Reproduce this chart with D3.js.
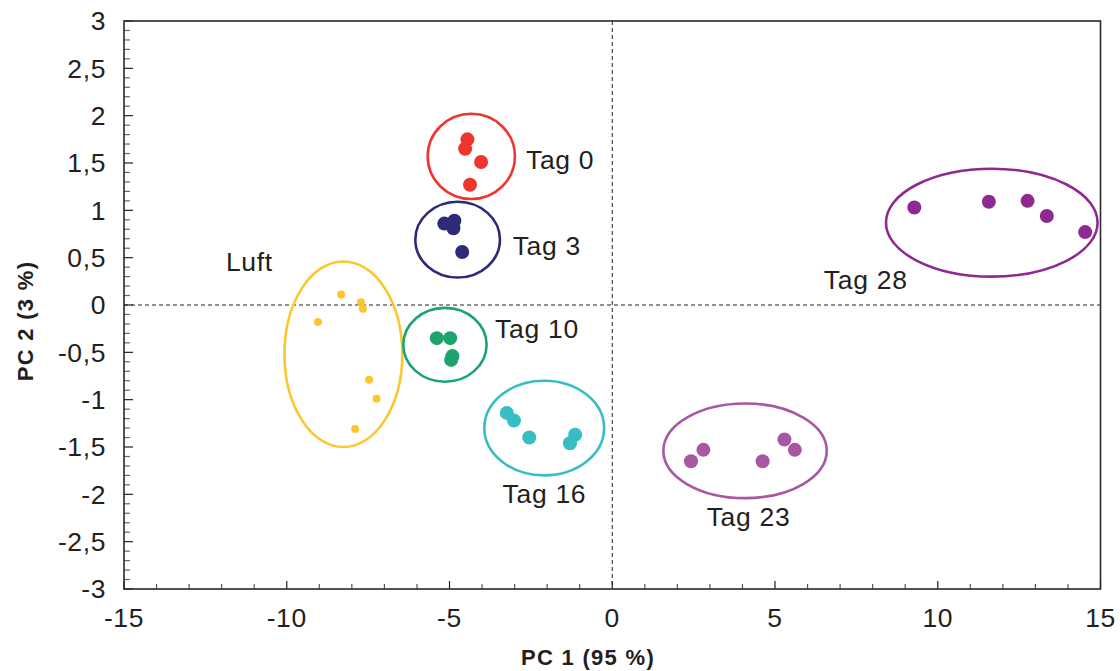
<!DOCTYPE html>
<html>
<head>
<meta charset="utf-8">
<script src="https://cdn.jsdelivr.net/npm/d3@7/dist/d3.min.js"></script>
<style>
  html, body { margin: 0; padding: 0; background: #fff; }
  svg { display: block; font-family: "Liberation Sans", Arial, Helvetica, sans-serif; }
</style>
</head>
<body>
<svg id="chart" width="1120" height="671"></svg>
<script>
// ---- data ----
const groups = ["Luft", "Tag 0", "Tag 3", "Tag 10", "Tag 16", "Tag 23", "Tag 28"];
const colors = ["#fdc62e", "#ee3530", "#2d2b78", "#1ca46c", "#36bec4", "#a858a3", "#8e2a8f"];

const luftX  = [-8.33, -7.72, -7.66, -9.04, -7.47, -7.24, -7.90];
const luftY  = [0.11, 0.03, -0.04, -0.18, -0.79, -0.99, -1.31];
const tag0X  = [-4.45, -4.52, -4.03, -4.37];
const tag0Y  = [1.75, 1.65, 1.51, 1.27];
const tag3X  = [-5.16, -4.85, -4.88, -4.61];
const tag3Y  = [0.86, 0.89, 0.81, 0.56];
const tag10X = [-5.39, -4.98, -4.91, -4.95];
const tag10Y = [-0.35, -0.35, -0.54, -0.58];
const tag16X = [-3.24, -3.02, -2.55, -1.14, -1.30];
const tag16Y = [-1.14, -1.22, -1.40, -1.37, -1.46];
const tag23X = [2.42, 2.80, 4.62, 5.29, 5.61];
const tag23Y = [-1.65, -1.53, -1.65, -1.42, -1.53];
const tag28X = [9.28, 11.57, 12.76, 13.35, 14.53];
const tag28Y = [1.03, 1.09, 1.10, 0.94, 0.77];

// confidence ellipses (data units): centre x, centre y, radius x, radius y
const ellCX = [-8.26, -4.33, -4.75, -5.14, -2.09, 4.08, 11.66];
const ellCY = [-0.52, 1.57, 0.69, -0.42, -1.30, -1.54, 0.87];
const ellRX = [1.81, 1.34, 1.30, 1.28, 1.84, 2.51, 3.25];
const ellRY = [0.98, 0.45, 0.40, 0.39, 0.50, 0.50, 0.57];

// label anchor positions (data units)
const labelX = [-11.87, -2.65, -3.06, -3.6, -3.37, 2.9, 6.5];
const labelY = [0.36, 1.44, 0.53, -0.35, -2.09, -2.33, 0.166];

const xTicks = [-15, -10, -5, 0, 5, 10, 15];
const yTicks = [-3, -2.5, -2, -1.5, -1, -0.5, 0, 0.5, 1, 1.5, 2, 2.5, 3];
const xTitle = "PC 1 (95 %)";
const yTitle = "PC 2 (3 %)";

// ---- layout ----
const svg = d3.select("#chart");
const L = 124, R = 1100.5, T = 21, B = 589;
const x = d3.scaleLinear().domain([-15, 15]).range([L, R]);
const y = d3.scaleLinear().domain([-3, 3]).range([B, T]);
const fmt = v => String(v).replace(".", ",");

const pointsX = [luftX, tag0X, tag3X, tag10X, tag16X, tag23X, tag28X];
const pointsY = [luftY, tag0Y, tag3Y, tag10Y, tag16Y, tag23Y, tag28Y];

// dashed zero lines
svg.append("line").attr("x1", x(0)).attr("x2", x(0)).attr("y1", T).attr("y2", B)
  .attr("stroke", "#222").attr("stroke-width", 1).attr("stroke-dasharray", "4,3");
svg.append("line").attr("x1", L).attr("x2", R).attr("y1", y(0)).attr("y2", y(0))
  .attr("stroke", "#222").attr("stroke-width", 1).attr("stroke-dasharray", "4,3");

// ellipses
groups.forEach((g, i) => {
  svg.append("ellipse")
    .attr("cx", x(ellCX[i])).attr("cy", y(ellCY[i]))
    .attr("rx", x(ellRX[i]) - x(0)).attr("ry", y(0) - y(ellRY[i]))
    .attr("fill", "none").attr("stroke", colors[i]).attr("stroke-width", 2.6);
});

// points
groups.forEach((g, i) => {
  const pts = pointsX[i].map((v, j) => [v, pointsY[i][j]]);
  svg.append("g").selectAll("circle").data(pts).join("circle")
    .attr("cx", d => x(d[0])).attr("cy", d => y(d[1]))
    .attr("r", i === 0 ? 4 : 7)
    .attr("fill", colors[i]);
});

// labels
groups.forEach((g, i) => {
  svg.append("text").attr("x", x(labelX[i])).attr("y", y(labelY[i]))
    .attr("font-size", 26.5).attr("letter-spacing", 0.7).attr("fill", "#231f20").text(g);
});

// minor + major ticks (inward)
const xMinor = d3.range(-15, 15.001, 1);
const yMinor = d3.range(-30, 31, 1).map(v => v / 10);
svg.append("g").selectAll("line").data(xMinor).join("line")
  .attr("x1", d => x(d)).attr("x2", d => x(d))
  .attr("y1", B).attr("y2", d => B - (Math.abs(d % 5) < 1e-9 ? 8 : 5))
  .attr("stroke", d => Math.abs(d % 5) < 1e-9 ? "#222" : "#555").attr("stroke-width", 1.2);
svg.append("g").selectAll("line").data(yMinor).join("line")
  .attr("y1", d => y(d)).attr("y2", d => y(d))
  .attr("x1", L).attr("x2", d => L + (Math.abs((d * 10) % 5) < 1e-6 ? 9 : 6))
  .attr("stroke", d => Math.abs((d * 10) % 5) < 1e-6 ? "#222" : "#666").attr("stroke-width", 1.2);

// frame
svg.append("rect").attr("x", L).attr("y", T).attr("width", R - L).attr("height", B - T)
  .attr("fill", "none").attr("stroke", "#2a2a2a").attr("stroke-width", 1.6);

// tick labels
svg.append("g").selectAll("text").data(xTicks).join("text")
  .attr("x", d => x(d)).attr("y", B + 38)
  .attr("text-anchor", "middle").attr("font-size", 26.5).attr("letter-spacing", 0.6).attr("fill", "#231f20")
  .text(d => fmt(d));
svg.append("g").selectAll("text").data(yTicks).join("text")
  .attr("x", L - 18).attr("y", d => y(d)).attr("dy", "0.35em")
  .attr("text-anchor", "end").attr("font-size", 26.5).attr("letter-spacing", 0.6).attr("fill", "#231f20")
  .text(d => fmt(d));

// axis titles
svg.append("text").attr("x", 588).attr("y", 665)
  .attr("text-anchor", "middle").attr("font-size", 22).attr("font-weight", "bold").attr("letter-spacing", 1.3)
  .attr("fill", "#231f20").text(xTitle);
svg.append("text").attr("transform", "translate(33,321) rotate(-90)")
  .attr("text-anchor", "middle").attr("font-size", 22).attr("font-weight", "bold").attr("letter-spacing", 1.3)
  .attr("fill", "#231f20").text(yTitle);
</script>
</body>
</html>
